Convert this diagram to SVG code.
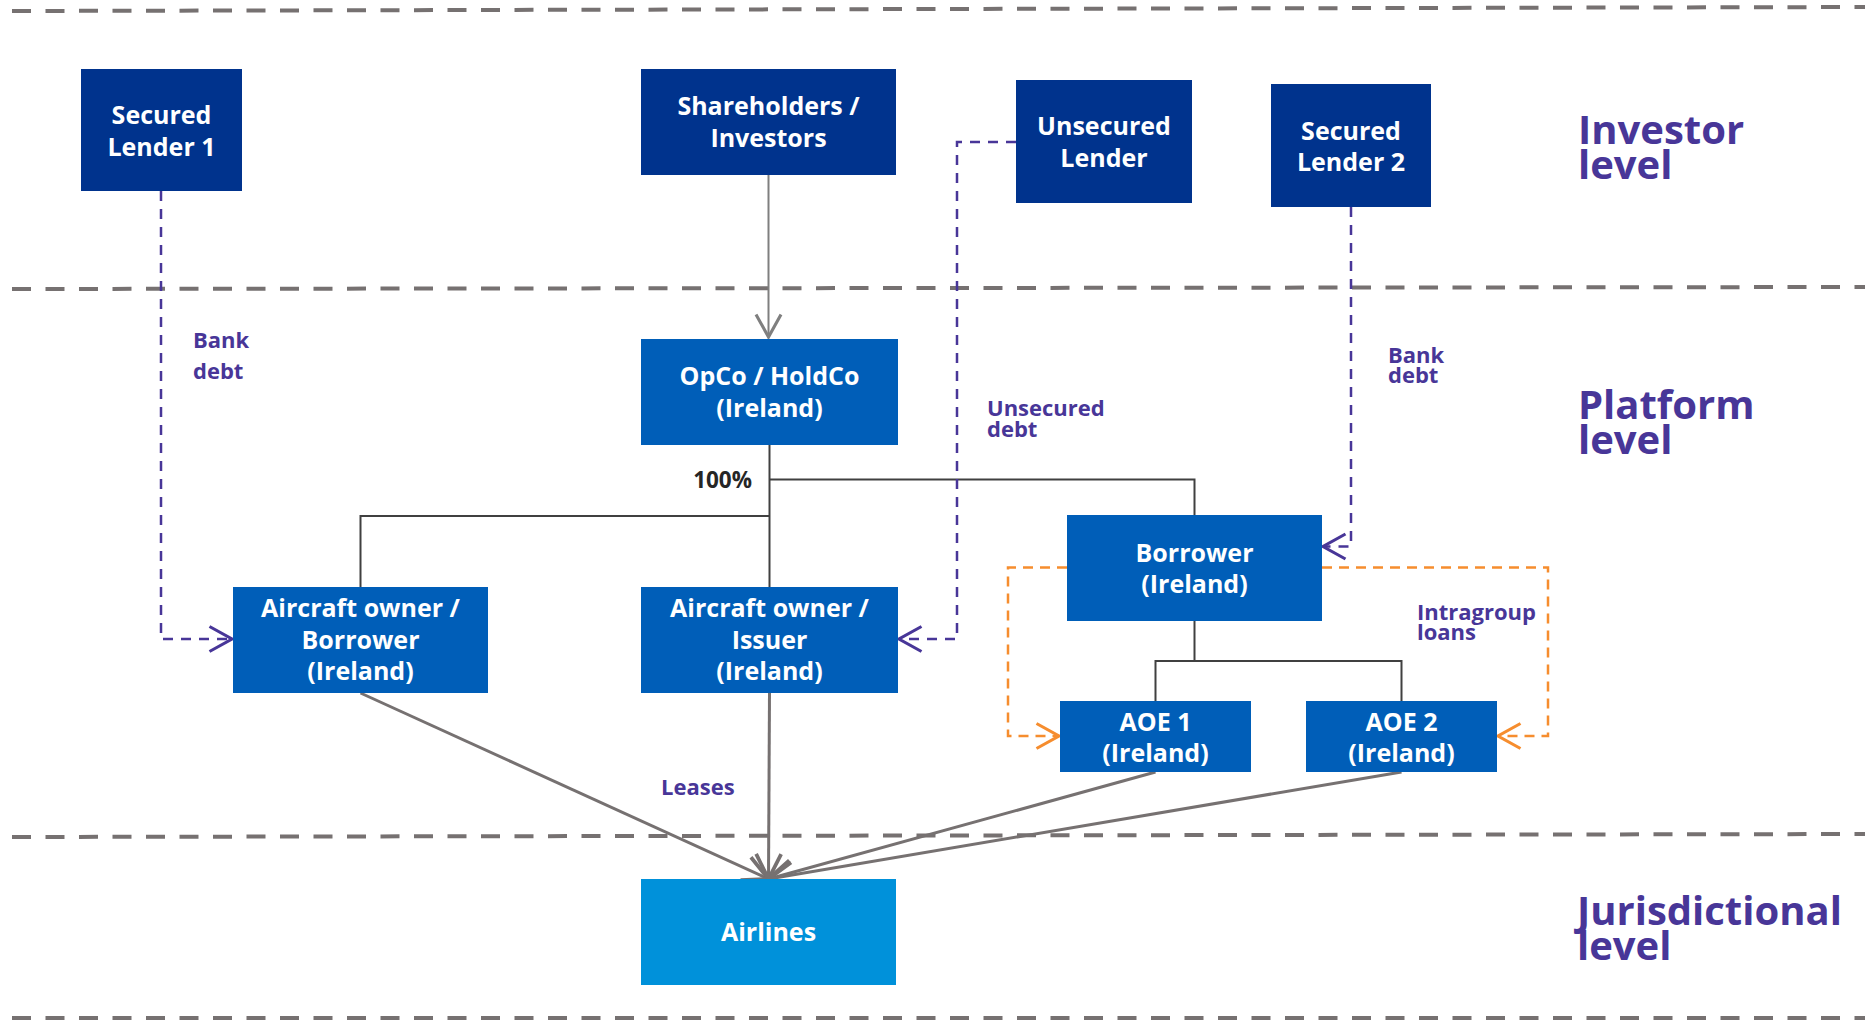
<svg xmlns="http://www.w3.org/2000/svg" width="1865" height="1020" viewBox="0 0 1865 1020">
<style>
.bg{fill:#ffffff}
.lvl{fill:none;stroke:#767171;stroke-width:4;stroke-dasharray:19 14.5}
.n1{fill:#00338D}
.n2{fill:#005EB8}
.n3{fill:#0091DA}
.nt{font-family:"Open Sans","Liberation Sans",sans-serif;font-weight:700;font-size:25px;fill:#ffffff;text-anchor:middle}
.lab{font-family:"Open Sans","Liberation Sans",sans-serif;font-weight:700;font-size:22px;fill:#483698}
.big{font-family:"Open Sans","Liberation Sans",sans-serif;font-weight:700;font-size:40px;fill:#483698}
.pct{font-family:"Open Sans","Liberation Sans",sans-serif;font-weight:700;font-size:22.5px;fill:#262626;text-anchor:end}
.tree{fill:none;stroke:#404040;stroke-width:2}
.sh{fill:none;stroke:#7F7F7F;stroke-width:2}
.lease{fill:none;stroke:#767171;stroke-width:3}
.pd{fill:none;stroke:#483698;stroke-width:2.5;stroke-dasharray:10 8}
.od{fill:none;stroke:#F68D2E;stroke-width:2.5;stroke-dasharray:10 7}
</style>
<defs>
<marker id="ag" markerUnits="userSpaceOnUse" markerWidth="30" markerHeight="30" viewBox="-20 -12 24 24" refX="0" refY="0" orient="auto" overflow="visible">
<path d="M -18 -10 L 0 0 L -18 10" fill="none" stroke="#7F7F7F" stroke-width="2.5" stroke-dasharray="none"/>
</marker>
<marker id="al" markerUnits="userSpaceOnUse" markerWidth="30" markerHeight="30" viewBox="-20 -12 24 24" refX="0" refY="0" orient="auto" overflow="visible">
<path d="M -20 -10 L 0 0 L -20 10" fill="none" stroke="#767171" stroke-width="3" stroke-dasharray="none"/>
</marker>
<marker id="ap" markerUnits="userSpaceOnUse" markerWidth="30" markerHeight="30" viewBox="-20 -12 24 24" refX="0" refY="0" orient="auto" overflow="visible">
<path d="M -18 -10 L 0 0 L -18 10" fill="none" stroke="#483698" stroke-width="2.5" stroke-dasharray="none"/>
</marker>
<marker id="ao" markerUnits="userSpaceOnUse" markerWidth="30" markerHeight="30" viewBox="-20 -12 24 24" refX="0" refY="0" orient="auto" overflow="visible">
<path d="M -18 -10 L 0 0 L -18 10" fill="none" stroke="#F68D2E" stroke-width="2.5" stroke-dasharray="none"/>
</marker>
</defs>
<rect class="bg" x="0" y="0" width="1865" height="1020"/>

<g id="levels">
<line class="lvl" x1="12" y1="11" x2="1865" y2="7"/>
<line class="lvl" x1="12" y1="289" x2="1865" y2="287"/>
<line class="lvl" x1="12" y1="837" x2="1865" y2="834"/>
<line class="lvl" x1="12" y1="1018" x2="1865" y2="1018"/>
<text class="big" x="1578" y="144">Investor</text>
<text class="big" x="1578" y="179">level</text>
<text class="big" x="1578" y="419">Platform</text>
<text class="big" x="1578" y="454">level</text>
<text class="big" x="1577" y="925">Jurisdictional</text>
<text class="big" x="1577" y="960">level</text>
</g>

<g id="connectors">
<path class="sh" d="M 768.5 175 L 768.5 337" marker-end="url(#ag)"/>
<path class="tree" d="M 769.5 445 L 769.5 587"/>
<path class="tree" d="M 769.5 479.5 L 1194.5 479.5 L 1194.5 515"/>
<path class="tree" d="M 769.5 516 L 360.5 516 L 360.5 587"/>
<path class="tree" d="M 1194.5 621 L 1194.5 661"/>
<path class="tree" d="M 1155.5 701 L 1155.5 661 L 1401.5 661 L 1401.5 701"/>
<path class="lease" d="M 360.5 693 L 768.5 879" marker-end="url(#al)"/>
<path class="lease" d="M 769.5 693 L 768.5 879" marker-end="url(#al)"/>
<path class="lease" d="M 1155.5 772 L 768.5 879" marker-end="url(#al)"/>
<path class="lease" d="M 1401.5 772 L 768.5 879" marker-end="url(#al)"/>
<path class="pd" d="M 161 191 L 161 639 L 232 639" marker-end="url(#ap)"/>
<path class="pd" d="M 1016 142 L 957 142 L 957 639 L 899 639" marker-end="url(#ap)"/>
<path class="pd" d="M 1351 207 L 1351 546.5 L 1323 546.5" marker-end="url(#ap)"/>
<path class="od" d="M 1067 567.5 L 1008 567.5 L 1008 736 L 1059 736" marker-end="url(#ao)"/>
<path class="od" d="M 1322 567.5 L 1548 567.5 L 1548 736 L 1498 736" marker-end="url(#ao)"/>
<text class="lab" x="193" y="348">Bank</text>
<text class="lab" x="193" y="379">debt</text>
<text class="lab" x="987" y="416">Unsecured</text>
<text class="lab" x="987" y="437">debt</text>
<text class="lab" x="1388" y="362.5">Bank</text>
<text class="lab" x="1388" y="382.5">debt</text>
<text class="lab" x="1417" y="620">Intragroup</text>
<text class="lab" x="1417" y="639.5">loans</text>
<text class="lab" x="661" y="795">Leases</text>
<text class="pct" x="752" y="488">100%</text>
</g>

<g id="secured-lender-1">
<rect class="n1" x="81" y="69" width="161" height="122"/>
<text class="nt" x="161.5" y="124">Secured</text>
<text class="nt" x="161.5" y="155.5">Lender 1</text>
</g>
<g id="shareholders">
<rect class="n1" x="641" y="69" width="255" height="106"/>
<text class="nt" x="768.5" y="115">Shareholders /</text>
<text class="nt" x="768.5" y="146.5">Investors</text>
</g>
<g id="unsecured-lender">
<rect class="n1" x="1016" y="80" width="176" height="123"/>
<text class="nt" x="1104" y="135">Unsecured</text>
<text class="nt" x="1104" y="167">Lender</text>
</g>
<g id="secured-lender-2">
<rect class="n1" x="1271" y="84" width="160" height="123"/>
<text class="nt" x="1351" y="139.5">Secured</text>
<text class="nt" x="1351" y="171">Lender 2</text>
</g>
<g id="opco-holdco">
<rect class="n2" x="641" y="339" width="257" height="106"/>
<text class="nt" x="769.5" y="385">OpCo / HoldCo</text>
<text class="nt" x="769.5" y="416.5">(Ireland)</text>
</g>
<g id="aircraft-owner-borrower">
<rect class="n2" x="233" y="587" width="255" height="106"/>
<text class="nt" x="360.5" y="617">Aircraft owner /</text>
<text class="nt" x="360.5" y="648.5">Borrower</text>
<text class="nt" x="360.5" y="680">(Ireland)</text>
</g>
<g id="aircraft-owner-issuer">
<rect class="n2" x="641" y="587" width="257" height="106"/>
<text class="nt" x="769.5" y="617">Aircraft owner /</text>
<text class="nt" x="769.5" y="648.5">Issuer</text>
<text class="nt" x="769.5" y="680">(Ireland)</text>
</g>
<g id="borrower">
<rect class="n2" x="1067" y="515" width="255" height="106"/>
<text class="nt" x="1194.5" y="561.5">Borrower</text>
<text class="nt" x="1194.5" y="593">(Ireland)</text>
</g>
<g id="aoe-1">
<rect class="n2" x="1060" y="701" width="191" height="71"/>
<text class="nt" x="1155.5" y="730.5">AOE 1</text>
<text class="nt" x="1155.5" y="761.5">(Ireland)</text>
</g>
<g id="aoe-2">
<rect class="n2" x="1306" y="701" width="191" height="71"/>
<text class="nt" x="1401.5" y="730.5">AOE 2</text>
<text class="nt" x="1401.5" y="761.5">(Ireland)</text>
</g>
<g id="airlines">
<rect class="n3" x="641" y="879" width="255" height="106"/>
<text class="nt" x="768.5" y="941">Airlines</text>
</g>
</svg>
